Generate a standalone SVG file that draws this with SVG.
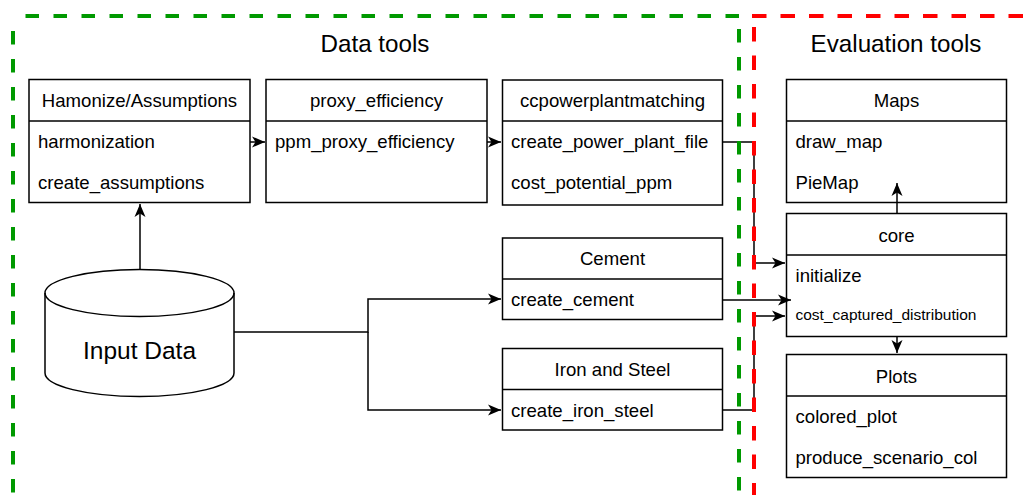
<svg xmlns="http://www.w3.org/2000/svg" width="1030" height="495" viewBox="0 0 1030 495">
<style>
text{font-family:"Liberation Sans",Arial,sans-serif;fill:#000}
.box{fill:#fff;stroke:#000;stroke-width:1.5}
.div{stroke:#000;stroke-width:1.5}
.hd{font-size:18.6px;text-anchor:middle}
.row{font-size:18.6px}
.sm{font-size:15.5px}
.title{font-size:24.2px;text-anchor:middle}
.conn{fill:none;stroke:#000;stroke-width:1.5}
.g{fill:none;stroke:#009900;stroke-width:4;stroke-dasharray:13.5 14.5}
.r{fill:none;stroke:#ff0000;stroke-width:4;stroke-dasharray:14.5 14}
</style>
<defs>
<marker id="arr" markerUnits="userSpaceOnUse" markerWidth="14" markerHeight="12" refX="13" refY="6" orient="auto">
<path d="M0,0.5 L13,6 L0,11.5 L3.5,6 Z" fill="#000"/>
</marker>
</defs>

<g id="titles">
<text class="title" x="375" y="52">Data tools</text>
<text class="title" x="896" y="52">Evaluation tools</text>
</g>

<g id="hamonize">
<rect class="box" x="29" y="79.5" width="221" height="123"/>
<line class="div" x1="29" y1="121" x2="250" y2="121"/>
<text class="hd" x="139.5" y="107">Hamonize/Assumptions</text>
<text class="row" x="38" y="148">harmonization</text>
<text class="row" x="38" y="189">create_assumptions</text>
</g>

<g id="proxy">
<rect class="box" x="266" y="79.5" width="221" height="123"/>
<line class="div" x1="266" y1="121" x2="487" y2="121"/>
<text class="hd" x="376.5" y="107">proxy_efficiency</text>
<text class="row" x="275" y="148">ppm_proxy_efficiency</text>
</g>

<g id="ccpp">
<rect class="box" x="502.5" y="80" width="220" height="125"/>
<line class="div" x1="502.5" y1="121" x2="722.5" y2="121"/>
<text class="hd" x="612.5" y="107">ccpowerplantmatching</text>
<text class="row" x="511" y="148">create_power_plant_file</text>
<text class="row" x="511" y="189">cost_potential_ppm</text>
</g>

<g id="cement">
<rect class="box" x="502.5" y="238" width="220" height="81.5"/>
<line class="div" x1="502.5" y1="279" x2="722.5" y2="279"/>
<text class="hd" x="612.5" y="265">Cement</text>
<text class="row" x="511" y="306">create_cement</text>
</g>

<g id="iron">
<rect class="box" x="502.5" y="348.5" width="220" height="81.5"/>
<line class="div" x1="502.5" y1="389.5" x2="722.5" y2="389.5"/>
<text class="hd" x="612.5" y="376">Iron and Steel</text>
<text class="row" x="511" y="416.5">create_iron_steel</text>
</g>

<g id="input">
<path class="box" d="M45,293 A94.5,23.5 0 0 1 234,293 V373 A94.5,23.5 0 0 1 45,373 Z"/>
<path class="conn" d="M45,293 A94.5,23.5 0 0 0 234,293"/>
<text x="139.5" y="359" font-size="24.5" text-anchor="middle">Input Data</text>
</g>

<g id="maps">
<rect class="box" x="786.5" y="79.5" width="220" height="123"/>
<line class="div" x1="786.5" y1="121" x2="1006.5" y2="121"/>
<text class="hd" x="896.5" y="107">Maps</text>
<text class="row" x="795.5" y="148">draw_map</text>
<text class="row" x="795.5" y="189">PieMap</text>
</g>

<g id="core">
<rect class="box" x="786.5" y="213.5" width="220" height="123"/>
<line class="div" x1="786.5" y1="255" x2="1006.5" y2="255"/>
<text class="hd" x="896.5" y="242">core</text>
<text class="row" x="795.5" y="282">initialize</text>
<text class="row sm" x="795.5" y="320">cost_captured_distribution</text>
</g>

<g id="plots">
<rect class="box" x="786.5" y="354.5" width="220" height="123"/>
<line class="div" x1="786.5" y1="396" x2="1006.5" y2="396"/>
<text class="hd" x="896.5" y="383">Plots</text>
<text class="row" x="795.5" y="423">colored_plot</text>
<text class="row" x="795.5" y="464">produce_scenario_col</text>
</g>

<g id="connectors">
<path class="conn" d="M250,142 H265" marker-end="url(#arr)"/>
<path class="conn" d="M487,142 H501" marker-end="url(#arr)"/>
<path class="conn" d="M722.5,142 H754 V263 H785" marker-end="url(#arr)"/>
<path class="conn" d="M722.5,300 H791" marker-end="url(#arr)"/>
<path class="conn" d="M722.5,410 H754 V316 H785" marker-end="url(#arr)"/>
<path class="conn" d="M140,269 V204" marker-end="url(#arr)"/>
<path class="conn" d="M234,332 H368 V299 H501" marker-end="url(#arr)"/>
<path class="conn" d="M368,332 V410 H501" marker-end="url(#arr)"/>
<path class="conn" d="M897,213.5 V183" marker-end="url(#arr)"/>
<path class="conn" d="M897,336.5 V353" marker-end="url(#arr)"/>
</g>

<g id="regions">
<path class="g" d="M739,16 H13"/>
<path class="g" d="M13,31 V495"/>
<path class="g" d="M739,29 V495"/>
<path class="r" d="M752,16 H1030"/>
<path class="r" d="M754,27 V495"/>
</g>
</svg>
